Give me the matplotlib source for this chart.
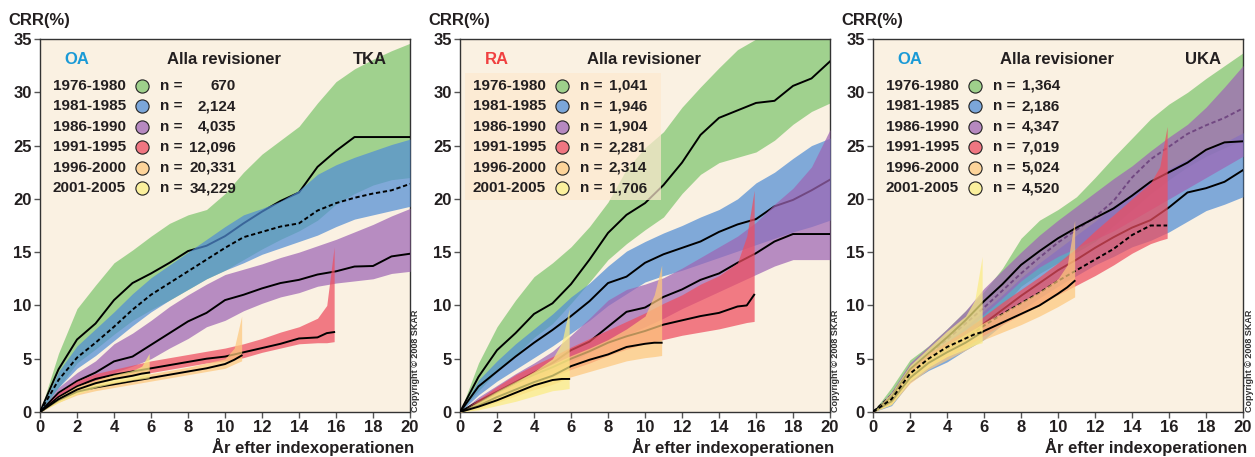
import matplotlib
matplotlib.use("Agg")
import matplotlib.pyplot as plt
from matplotlib.patches import Rectangle

plt.rcParams['font.family'] = ['Liberation Sans', 'DejaVu Sans']
plt.rcParams['font.weight'] = 'bold'

# ===== DATA =====
PERIODS = ["1976-1980", "1981-1985", "1986-1990", "1991-1995", "1996-2000", "2001-2005"]
COUNTS_TKA = ["670", "2,124", "4,035", "12,096", "20,331", "34,229"]
COUNTS_RA = ["1,041", "1,946", "1,904", "2,281", "2,314", "1,706"]
COUNTS_UKA = ["1,364", "2,186", "4,347", "7,019", "5,024", "4,520"]

# follow-up years per cohort (later cohorts are cut off earlier)
YEARS_20 = list(range(21))
YEARS_16 = list(range(16)) + [15.5, 15.9]
YEARS_11 = list(range(11)) + [10.5, 10.9]
YEARS_6 = list(range(6)) + [5.5, 5.9]
COHORT_YEARS = [YEARS_20, YEARS_20, YEARS_20, YEARS_16, YEARS_11, YEARS_6]

# TKA, OA - cumulative revision rate (%) with confidence limits
TKA_CRR = [
    [0, 4.0, 6.8, 8.3, 10.5, 12.1, 13.0, 14.0, 15.1, 15.6, 16.5, 17.7, 18.8, 19.8, 20.6, 23.0, 24.5, 25.8, 25.8, 25.8, 25.8],
    [0, 3.0, 5.1, 6.5, 8.0, 9.6, 11.0, 12.1, 13.2, 14.3, 15.4, 16.4, 16.9, 17.4, 17.7, 18.9, 19.6, 20.1, 20.5, 20.8, 21.4],
    [0, 1.8, 2.9, 3.7, 4.75, 5.2, 6.3, 7.4, 8.5, 9.3, 10.5, 11.0, 11.6, 12.1, 12.4, 12.9, 13.2, 13.65, 13.7, 14.6, 14.85],
    [0, 1.4, 2.4, 3.1, 3.5, 3.8, 4.1, 4.4, 4.7, 5.0, 5.2, 5.6, 6.0, 6.4, 6.9, 7.0, 7.4, 7.5],
    [0, 1.1, 1.9, 2.3, 2.6, 2.9, 3.2, 3.5, 3.8, 4.1, 4.5, 4.9, 5.3],
    [0, 1.2, 2.1, 2.7, 3.1, 3.4, 3.6, 3.7],
]
TKA_UPPER = [
    [0, 5.5, 9.7, 11.9, 14.0, 15.2, 16.5, 17.7, 18.5, 19.0, 20.5, 22.5, 24.2, 25.5, 26.8, 29.0, 31.0, 32.2, 33.1, 33.9, 34.6],
    [0, 3.8, 6.2, 7.8, 9.4, 11.1, 12.6, 13.8, 15.0, 16.2, 17.4, 18.5, 19.1, 19.8, 20.8, 22.3, 23.2, 23.9, 24.5, 25.1, 25.6],
    [0, 2.3, 3.7, 4.8, 6.4, 7.4, 8.6, 9.9, 11.0, 12.0, 12.9, 13.4, 13.9, 14.5, 15.0, 15.6, 16.2, 16.9, 17.6, 18.4, 19.1],
    [0, 1.8, 2.9, 3.6, 4.0, 4.4, 4.8, 5.1, 5.4, 5.7, 6.0, 6.4, 6.9, 7.5, 8.0, 8.8, 10.0, 15.5],
    [0, 1.4, 2.2, 2.6, 2.9, 3.2, 3.6, 3.9, 4.2, 4.6, 5.0, 6.0, 9.0],
    [0, 1.4, 2.4, 3.0, 3.5, 3.9, 4.3, 5.5],
]
TKA_LOWER = [
    [0, 2.3, 4.6, 5.9, 7.3, 8.6, 9.6, 10.5, 11.5, 12.5, 13.3, 14.3, 15.3, 16.2, 17.0, 18.0, 19.5, 20.5, 21.3, 21.8, 22.0],
    [0, 2.3, 4.1, 5.3, 6.7, 8.1, 9.4, 10.5, 11.5, 12.5, 13.3, 14.0, 14.8, 15.4, 16.0, 16.6, 17.4, 18.1, 18.5, 18.9, 19.3],
    [0, 1.3, 2.3, 2.9, 3.7, 4.3, 5.0, 6.0, 6.9, 8.0, 8.6, 9.5, 10.2, 10.8, 11.2, 11.8, 12.1, 12.3, 12.5, 13.0, 13.2],
    [0, 1.1, 2.0, 2.6, 3.1, 3.4, 3.7, 4.0, 4.3, 4.6, 4.8, 5.1, 5.6, 6.0, 6.4, 6.5, 6.5, 6.6],
    [0, 0.9, 1.6, 2.0, 2.3, 2.6, 2.9, 3.2, 3.5, 3.8, 4.1, 4.5, 4.8],
    [0, 0.9, 1.7, 2.3, 2.7, 3.0, 3.1, 3.2],
]

# TKA, RA
RA_CRR = [
    [0, 3.3, 5.8, 7.4, 9.2, 10.2, 12.0, 14.3, 16.8, 18.5, 19.6, 21.3, 23.4, 26.0, 27.6, 28.3, 29.0, 29.2, 30.6, 31.3, 32.9],
    [0, 2.4, 3.8, 5.2, 6.5, 7.7, 9.0, 10.4, 12.1, 12.7, 14.0, 14.8, 15.4, 16.0, 16.9, 17.6, 18.1, 19.3, 19.9, 20.8, 21.8],
    [0, 1.0, 1.9, 2.8, 3.7, 4.6, 5.8, 6.6, 8.0, 9.4, 9.8, 10.8, 11.5, 12.4, 13.0, 14.0, 14.9, 16.0, 16.7, 16.7, 16.7],
    [0, 0.8, 1.8, 2.7, 3.5, 4.2, 5.0, 5.7, 6.5, 7.1, 7.6, 8.2, 8.6, 9.0, 9.3, 9.9, 10.0, 11.0],
    [0, 0.6, 1.4, 2.1, 2.8, 3.4, 4.3, 4.9, 5.4, 6.1, 6.4, 6.5, 6.5],
    [0, 0.5, 1.1, 1.8, 2.5, 3.0, 3.1, 3.1],
]
RA_UPPER = [
    [0, 4.6, 8.0, 10.5, 12.7, 14.0, 15.5, 17.4, 19.7, 22.8, 24.8, 26.3, 28.6, 30.5, 32.3, 34.0, 35.0, 36.0, 36.5, 37.0, 37.5],
    [0, 3.0, 4.8, 6.4, 7.8, 9.2, 10.8, 12.1, 13.7, 15.1, 16.0, 16.8, 17.5, 18.3, 19.0, 20.0, 21.5, 22.5, 23.8, 25.0, 25.7],
    [0, 1.4, 2.5, 3.6, 4.6, 5.7, 7.2, 8.8, 10.5, 11.5, 12.0, 12.6, 13.5, 14.5, 15.5, 16.5, 17.8, 19.5, 21.0, 23.0, 26.5],
    [0, 1.2, 2.4, 3.5, 4.4, 5.2, 6.1, 6.9, 7.7, 8.5, 9.3, 10.2, 11.0, 12.0, 12.8, 14.0, 16.5, 20.8],
    [0, 1.0, 2.0, 2.9, 3.7, 4.5, 5.3, 6.0, 6.8, 7.8, 9.0, 11.0, 13.8],
    [0, 0.9, 1.9, 2.8, 3.8, 5.0, 6.5, 9.7],
]
RA_LOWER = [
    [0, 2.0, 3.8, 5.3, 7.0, 8.3, 10.2, 12.2, 14.3, 15.8, 17.1, 18.3, 20.5, 22.3, 23.4, 23.9, 24.4, 25.5, 27.0, 28.2, 29.0],
    [0, 1.6, 2.9, 4.0, 5.1, 6.2, 7.4, 8.6, 10.0, 11.1, 12.2, 12.8, 13.3, 13.9, 14.5, 15.1, 15.7, 16.3, 16.9, 17.4, 18.0],
    [0, 0.7, 1.4, 2.2, 3.0, 3.9, 4.7, 5.6, 6.5, 7.2, 8.0, 8.8, 9.7, 10.5, 11.3, 12.1, 12.9, 13.7, 14.3, 14.3, 14.3],
    [0, 0.5, 1.3, 2.0, 2.7, 3.3, 4.0, 4.6, 5.3, 5.9, 6.4, 6.8, 7.2, 7.5, 7.8, 8.2, 8.4, 8.5],
    [0, 0.3, 0.9, 1.5, 2.1, 2.6, 3.3, 3.8, 4.3, 4.8, 5.1, 5.2, 5.3],
    [0, 0.2, 0.6, 1.0, 1.5, 2.0, 2.1, 2.2],
]

# UKA, OA
UKA_CRR = [
    [0, 1.6, 3.9, 5.4, 6.8, 8.3, 9.8, 11.4, 13.0, 14.5, 15.9, 17.1, 18.3, 19.8, 22.0, 23.7, 24.9, 26.1, 26.9, 27.6, 28.5],
    [0, 1.0, 3.3, 4.7, 5.8, 7.0, 8.3, 9.6, 10.9, 12.1, 13.3, 14.3, 15.4, 16.4, 17.3, 18.0, 19.2, 20.6, 21.0, 21.6, 22.7],
    [0, 1.4, 4.0, 5.5, 7.0, 8.6, 10.4, 12.0, 13.8, 15.1, 16.3, 17.3, 18.2, 19.1, 20.3, 21.6, 22.5, 23.4, 24.6, 25.3, 25.4],
    [0, 1.1, 3.5, 4.9, 5.9, 6.9, 8.1, 9.2, 10.2, 11.2, 12.3, 13.3, 14.3, 15.3, 16.6, 17.5, 17.5, 17.5],
    [0, 1.0, 3.2, 4.6, 5.6, 6.5, 7.6, 8.4, 9.2, 10.0, 11.1, 11.7, 12.3],
    [0, 1.2, 3.6, 5.0, 6.1, 6.9, 7.3, 7.5],
]
UKA_UPPER = [
    [0, 2.3, 4.9, 6.2, 7.8, 9.5, 11.3, 13.5, 16.3, 18.0, 19.0, 20.2, 22.0, 23.9, 25.7, 27.5, 28.9, 30.0, 31.3, 32.5, 33.7],
    [0, 1.3, 3.8, 5.3, 6.6, 8.0, 9.5, 11.0, 12.6, 14.0, 15.3, 16.6, 17.9, 19.3, 20.5, 21.7, 22.8, 23.7, 24.5, 25.3, 26.2],
    [0, 1.9, 4.6, 6.2, 7.8, 9.5, 11.6, 13.3, 15.0, 16.6, 18.0, 19.3, 20.6, 21.9, 23.1, 24.5, 25.8, 27.0, 28.6, 30.5, 32.5],
    [0, 1.4, 4.0, 5.5, 6.6, 7.7, 9.0, 10.3, 11.5, 12.7, 14.0, 15.4, 17.0, 18.5, 20.0, 21.5, 23.0, 26.8],
    [0, 1.3, 3.7, 5.2, 6.3, 7.3, 8.4, 9.3, 10.3, 11.3, 12.5, 13.8, 18.0],
    [0, 1.8, 4.4, 6.0, 7.6, 9.0, 10.5, 14.6],
]
UKA_LOWER = [
    [0, 1.2, 3.4, 4.6, 5.8, 7.0, 8.3, 9.8, 11.8, 13.0, 14.0, 15.0, 16.0, 17.5, 19.0, 20.5, 21.8, 23.0, 24.0, 24.8, 25.5],
    [0, 0.6, 2.8, 3.9, 4.7, 5.8, 6.8, 8.2, 9.5, 10.7, 11.8, 12.8, 13.8, 14.6, 15.5, 16.1, 16.9, 17.9, 18.9, 19.5, 20.2],
    [0, 0.9, 3.3, 4.7, 6.1, 7.5, 9.2, 10.7, 12.3, 13.6, 14.6, 15.4, 16.2, 17.0, 18.0, 19.0, 20.0, 21.0, 22.0, 23.0, 24.0],
    [0, 0.8, 3.0, 4.3, 5.2, 6.1, 7.2, 8.2, 9.1, 10.0, 11.0, 11.9, 12.8, 13.8, 14.9, 15.8, 16.1, 16.3],
    [0, 0.7, 2.7, 4.0, 4.9, 5.8, 6.8, 7.5, 8.2, 9.0, 9.9, 10.4, 10.8],
    [0, 0.7, 2.9, 4.2, 5.2, 5.9, 6.3, 6.5],
]

# ===== STYLE =====
BAND_COLORS = ["#7ec56e", "#518dd5", "#9e65b5", "#ee4d5f", "#fec87d", "#faec83"]
DOT_COLORS = ["#9ed08b", "#7ba6d9", "#b689c0", "#f07681", "#fdd49a", "#fbf09d"]
BG = "#faf1e2"
TEXT = "#231f20"

W, H = 1255, 457
AX_LEFTS = [40, 460, 873]
AX_W, AX_TOP, AX_BOT = 370, 39, 412


def draw_panel(ax, crr, upper, lower, counts, diag, diag_color, implant,
               dashes, num_right, boxed):
    ax.set_facecolor(BG)
    for i in range(6):
        yrs = COHORT_YEARS[i]
        ax.fill_between(yrs, lower[i], upper[i], color=BAND_COLORS[i],
                        alpha=0.72, linewidth=0, zorder=2 + 2 * i)
        ls = (0, (2.2, 1.4)) if dashes[i] else '-'
        ax.plot(yrs, crr[i], color='black', lw=1.4, ls=ls, zorder=3 + 2 * i)

    ax.set_xlim(0, 20)
    ax.set_ylim(0, 35)
    ax.set_xticks(range(0, 21, 2))
    ax.set_yticks(range(0, 36, 5))
    ax.tick_params(direction='out', length=4, width=1, color='#555555',
                   labelsize=12, labelcolor=TEXT, pad=2)
    for lab in ax.get_xticklabels() + ax.get_yticklabels():
        lab.set_fontweight('bold')
    for s in ax.spines.values():
        s.set_color('#333333')
        s.set_linewidth(1)

    if boxed:
        ax.add_patch(Rectangle((0.0135, 0.568), 0.53, 0.341, transform=ax.transAxes,
                               facecolor='#fde9cf', alpha=0.7, edgecolor='none', zorder=20))

    top_y = 0.944
    ax.text(0.10, top_y, diag, color=diag_color, fontsize=12, fontweight='bold',
            ha='center', va='center', transform=ax.transAxes, zorder=21)
    ax.text(0.496, top_y, "Alla revisioner", color=TEXT, fontsize=12, fontweight='bold',
            ha='center', va='center', transform=ax.transAxes, zorder=21)
    if implant:
        ax.text(0.892, top_y, implant, color=TEXT, fontsize=12, fontweight='bold',
                ha='center', va='center', transform=ax.transAxes, zorder=21)

    for i in range(6):
        y = 0.874 - 0.0548 * i
        ax.text(0.034, y, PERIODS[i], color=TEXT, fontsize=11, fontweight='bold',
                ha='left', va='center', transform=ax.transAxes, zorder=21)
        ax.plot([0.277], [y], marker='o', ms=9.5, mfc=DOT_COLORS[i], mec='#222222',
                mew=0.8, transform=ax.transAxes, zorder=21, clip_on=False)
        ax.text(0.324, y, "n =", color=TEXT, fontsize=11, fontweight='bold',
                ha='left', va='center', transform=ax.transAxes, zorder=21)
        ax.text(num_right, y, counts[i], color=TEXT, fontsize=11, fontweight='bold',
                ha='right', va='center', transform=ax.transAxes, zorder=21)


fig = plt.figure(figsize=(W / 100, H / 100), dpi=100)
fig.patch.set_facecolor('white')

panels = [
    (TKA_CRR, TKA_UPPER, TKA_LOWER, COUNTS_TKA, "OA", "#1a9ad6", "TKA",
     [False, True, False, False, False, False], 0.530, False),
    (RA_CRR, RA_UPPER, RA_LOWER, COUNTS_RA, "RA", "#f04040", None,
     [False] * 6, 0.506, True),
    (UKA_CRR, UKA_UPPER, UKA_LOWER, COUNTS_UKA, "OA", "#1a9ad6", "UKA",
     [True, False, False, True, False, True], 0.505, False),
]

for left, args in zip(AX_LEFTS, panels):
    ax = fig.add_axes([left / W, (H - AX_BOT) / H, AX_W / W, (AX_BOT - AX_TOP) / H])
    draw_panel(ax, *args)
    fig.text((left - 32) / W, (H - 13) / H, "CRR(%)", fontsize=12, fontweight='bold',
             color=TEXT, ha='left', va='top')
    fig.text((left + AX_W + 4) / W, 4.5 / H, "År efter indexoperationen", fontsize=12,
             fontweight='bold', color=TEXT, ha='right', va='baseline')
    fig.text((left + AX_W + 6) / W, (H - AX_BOT) / H, "Copyright © 2008 SKAR",
             fontsize=6.5, fontweight='bold', color='#333333', rotation=90,
             ha='center', va='bottom')

fig.savefig("out.png", dpi=100, facecolor='white')
